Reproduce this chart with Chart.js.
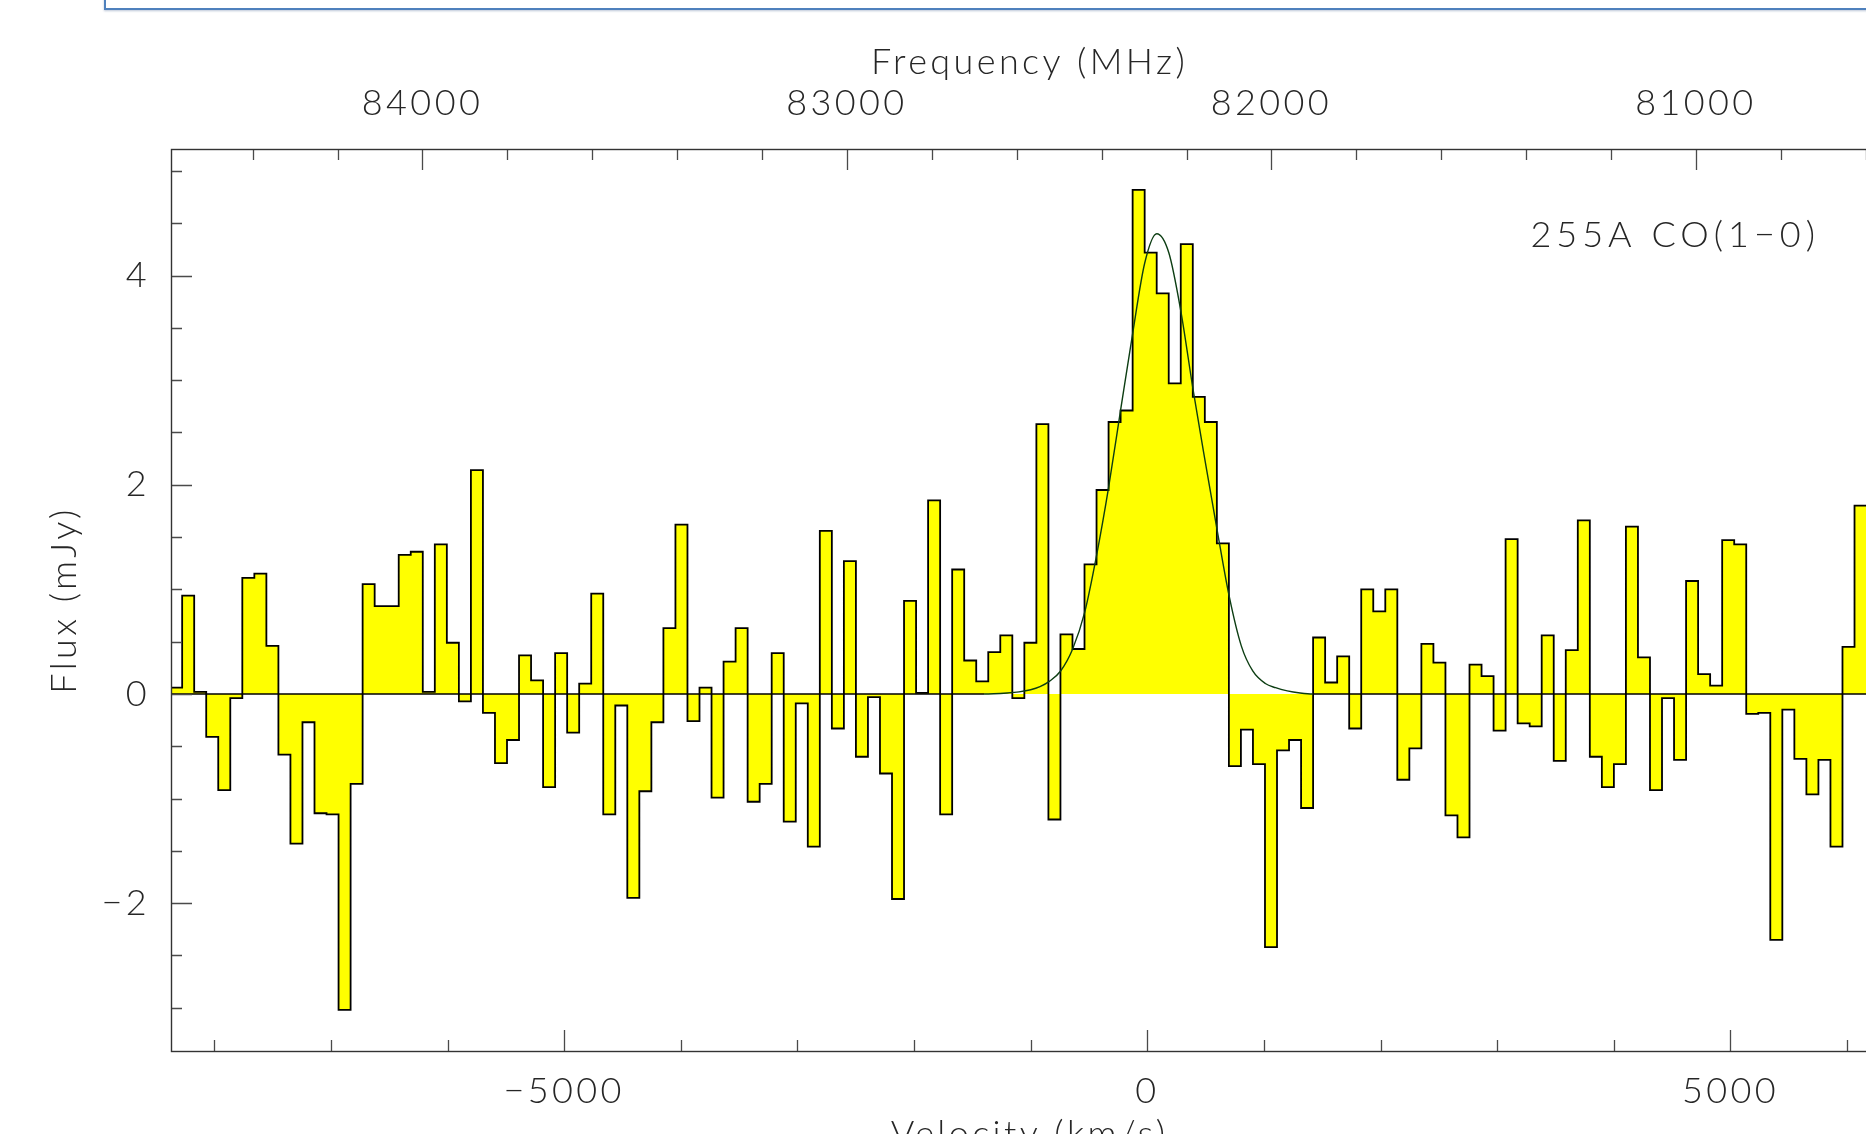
<!DOCTYPE html>
<html>
<head>
<meta charset="utf-8">
<title>255A CO(1−0) spectrum</title>
<script src="https://cdn.jsdelivr.net/npm/chart.js@4.4.1/dist/chart.umd.min.js"></script>
<style>
  html, body { margin: 0; padding: 0; background: #fff; overflow: hidden; width: 1866px; height: 1134px; }
  #wrap { position: absolute; left: 0; top: 0; width: 1920px; height: 1200px; }
  #note-box { position: absolute; left: 104px; top: -22px; width: 1900px; height: 28px;
              border: 2px solid #4f81bd; box-shadow: 0 1px 2px rgba(60, 90, 140, 0.35); }
</style>
</head>
<body>
<div id="wrap"><canvas id="spectrum" width="1920" height="1200"></canvas></div>
<div id="note-box"></div>
<script>
// ---- Spectrum: flux density per velocity channel (mJy), first channel at firstChannelEdge ----
const firstChannelEdge = -8378.5;   // km/s, left edge of the first channel
const channelWidth = 103.16;        // km/s
const fluxValues = [
   0.06,  0.94,  0.02, -0.41, -0.92, -0.04,  1.11,  1.15,  0.46, -0.58,
  -1.43, -0.27, -1.14, -1.15, -3.02, -0.86,  1.05,  0.84,  0.84,  1.33,
   1.36,  0.02,  1.43,  0.49, -0.07,  2.14, -0.18, -0.66, -0.44,  0.37,
   0.13, -0.89,  0.39, -0.37,  0.10,  0.96, -1.15, -0.11, -1.95, -0.93,
  -0.27,  0.63,  1.62, -0.26,  0.06, -0.99,  0.31,  0.63, -1.03, -0.86,
   0.39, -1.22, -0.09, -1.46,  1.56, -0.33,  1.27, -0.60, -0.03, -0.76,
  -1.96,  0.89,  0.01,  1.85, -1.15,  1.19,  0.32,  0.12,  0.40,  0.56,
  -0.04,  0.49,  2.58, -1.20,  0.57,  0.43,  1.24,  1.95,  2.60,  2.71,
   4.82,  4.22,  3.83,  2.97,  4.30,  2.84,  2.60,  1.44, -0.69, -0.34,
  -0.67, -2.42, -0.54, -0.44, -1.09,  0.54,  0.11,  0.36, -0.33,  1.00,
   0.79,  1.00, -0.82, -0.52,  0.48,  0.30, -1.16, -1.37,  0.28,  0.17,
  -0.35,  1.48, -0.28, -0.31,  0.56, -0.64,  0.42,  1.66, -0.60, -0.89,
  -0.67,  1.60,  0.35, -0.92, -0.04, -0.63,  1.08,  0.19,  0.08,  1.47,
   1.43, -0.19, -0.18, -2.35, -0.15, -0.62, -0.96, -0.63, -1.46,  0.45,
   1.80
];

// ---- Fitted line profile (baseline + Gaussian), sampled in velocity ----
const modelVelocity = [-8371, -1400, -1200, -1100, -1000, -920, -840, -743, -640, -537,
                       -434, -331, -228, -125, -22, 81, 184, 286, 394, 497,
                       600, 703, 806, 904, 1012, 1100, 1200, 1310, 1420, 6351];
const modelFlux     = [0, 0, 0.01, 0.02, 0.04, 0.07, 0.12, 0.22, 0.43, 0.78,
                       1.33, 1.98, 2.72, 3.45, 4.12, 4.40, 4.22, 3.67, 2.90, 2.22,
                       1.56, 0.93, 0.46, 0.22, 0.10, 0.06, 0.03, 0.01, 0, 0];

// ---- Axes ----
const velocityRange = [-8371, 6351];      // km/s
const frequencyRange = [80547.3, 84592.5]; // MHz (decreasing to the right)
const fluxRange = [-3.413, 5.21];          // mJy
const velocityTicks = [-5000, 0, 5000];
const frequencyTicks = [84000, 83000, 82000, 81000];
const fluxTicks = [-2, 0, 2, 4];
const lineLabel = '255A CO(1\u22120)';

const FONT_FAMILY = '"Lato", "Open Sans", "DejaVu Sans", sans-serif';
const TEXT_COLOR = '#262626';
const axisFont = { family: FONT_FAMILY, size: 36, weight: 300, lineHeight: 1.2 };

const signed = v => (v < 0 ? '\u2212' + Math.abs(v) : String(v));

// Histogram outline: one point per channel edge; each value holds up to the next edge.
const histogramPoints = fluxValues.map((y, i) => ({ x: firstChannelEdge + i * channelWidth, y }));
histogramPoints.push({
  x: firstChannelEdge + fluxValues.length * channelWidth,
  y: fluxValues[fluxValues.length - 1]
});
const modelPoints = modelVelocity.map((x, i) => ({ x, y: modelFlux[i] }));

// Text with the wide spacing of the plotting font.
const spacedText = {
  id: 'spacedText',
  beforeDraw(chart) { chart.ctx.letterSpacing = '3.4px'; }
};

// Frame, inward tick marks and the line label.
const frameAndTicks = {
  id: 'frameAndTicks',
  afterDraw(chart) {
    const { ctx, chartArea: a, scales } = chart;
    ctx.save();
    ctx.lineCap = 'butt';

    const major = 21, minor = 11;
    const each = (min, max, step, fn) => {
      const lo = Math.min(min, max), hi = Math.max(min, max);
      for (let n = Math.ceil(lo / step - 1e-9); n * step <= hi + 1e-9; n++) fn(n * step);
    };

    ctx.strokeStyle = '#4a4a4a';
    ctx.lineWidth = 1.3;
    ctx.beginPath();
    // velocity (bottom)
    each(velocityRange[0], velocityRange[1], 1000, v => {
      const x = Math.round(scales.x.getPixelForValue(v)) + 0.5;
      const len = Math.abs(v % 5000) < 1e-6 ? major : minor;
      ctx.moveTo(x, a.bottom); ctx.lineTo(x, a.bottom - len);
    });
    // frequency (top)
    each(frequencyRange[0], frequencyRange[1], 200, f => {
      const x = Math.round(scales.freq.getPixelForValue(f)) + 0.5;
      const len = Math.abs(f % 1000) < 1e-6 ? major : minor;
      ctx.moveTo(x, a.top); ctx.lineTo(x, a.top + len);
    });
    // flux (left and right)
    each(fluxRange[0], fluxRange[1], 0.5, y => {
      const py = Math.round(scales.y.getPixelForValue(y)) + 0.5;
      const len = Math.abs(y % 2) < 1e-6 ? major : minor;
      ctx.moveTo(a.left, py); ctx.lineTo(a.left + len, py);
      ctx.moveTo(a.right, py); ctx.lineTo(a.right - len, py);
    });
    ctx.stroke();

    ctx.strokeStyle = '#333';
    ctx.lineWidth = 1.4;
    ctx.strokeRect(Math.round(a.left) + 0.5, Math.round(a.top) + 0.5,
                   Math.round(a.right - a.left), Math.round(a.bottom - a.top));

    ctx.font = `300 36px ${FONT_FAMILY}`;
    ctx.fillStyle = TEXT_COLOR;
    ctx.textAlign = 'right';
    ctx.textBaseline = 'alphabetic';
    ctx.letterSpacing = '5px';
    ctx.fillText(lineLabel, a.right - 68, a.top + 98);
    ctx.restore();
  }
};

new Chart(document.getElementById('spectrum'), {
  type: 'line',
  data: {
    datasets: [
      {
        label: 'Gaussian fit',
        data: modelPoints,
        borderColor: '#0c3d12',
        borderWidth: 1.4,
        pointRadius: 0,
        fill: false,
        cubicInterpolationMode: 'monotone',
        segment: {
          borderColor: c => (Math.abs(c.p0.parsed.y) < 1e-6 && Math.abs(c.p1.parsed.y) < 1e-6) ? '#000' : '#0c3d12'
        },
        order: 0
      },
      {
        label: 'Flux',
        data: histogramPoints,
        stepped: 'before',
        borderColor: '#000',
        borderWidth: 1.8,
        backgroundColor: '#ffff00',
        fill: 'origin',
        pointRadius: 0,
        order: 1
      }
    ]
  },
  options: {
    responsive: false,
    animation: false,
    events: [],
    layout: { padding: { left: 0, right: 32, top: 0, bottom: 0 } },
    plugins: { legend: { display: false }, tooltip: { enabled: false } },
    scales: {
      x: {
        type: 'linear',
        position: 'bottom',
        min: velocityRange[0],
        max: velocityRange[1],
        grid: { display: false, drawTicks: false },
        border: { display: false },
        afterBuildTicks: s => { s.ticks = velocityTicks.map(value => ({ value })); },
        afterFit: s => { s.height = 149; },
        ticks: { font: axisFont, color: TEXT_COLOR, padding: 19, maxRotation: 0, autoSkip: false, callback: v => signed(v) },
        title: { display: true, text: 'Velocity (km/s)', font: axisFont, color: TEXT_COLOR, padding: { top: 0, bottom: 44 } }
      },
      freq: {
        type: 'linear',
        axis: 'x',
        position: 'top',
        reverse: true,
        min: frequencyRange[0],
        max: frequencyRange[1],
        grid: { display: false, drawTicks: false },
        border: { display: false },
        afterBuildTicks: s => { s.ticks = frequencyTicks.map(value => ({ value })); },
        afterFit: s => { s.height = 149; },
        ticks: { font: axisFont, color: TEXT_COLOR, padding: 24, maxRotation: 0, autoSkip: false, callback: v => String(v) },
        title: { display: true, text: 'Frequency (MHz)', font: axisFont, color: TEXT_COLOR, padding: { top: 41, bottom: 0 } }
      },
      y: {
        type: 'linear',
        position: 'left',
        min: fluxRange[0],
        max: fluxRange[1],
        grid: { display: false, drawTicks: false },
        border: { display: false },
        afterBuildTicks: s => { s.ticks = fluxTicks.map(value => ({ value })); },
        afterFit: s => { s.width = 171; },
        ticks: { font: axisFont, color: TEXT_COLOR, padding: 21, autoSkip: false, callback: v => signed(v) },
        title: { display: true, text: 'Flux (mJy)', font: axisFont, color: TEXT_COLOR, padding: { top: 43, bottom: 0 } }
      }
    }
  },
  plugins: [spacedText, frameAndTicks]
});
</script>
</body>
</html>
